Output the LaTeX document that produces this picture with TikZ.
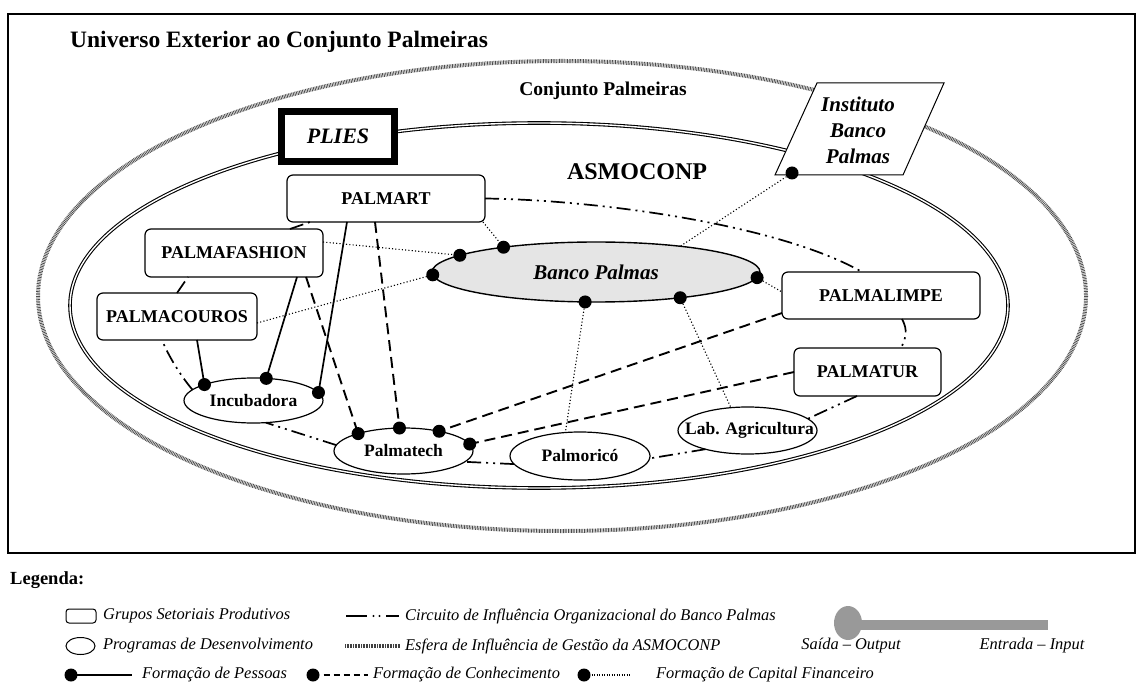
\documentclass[tikz,border=0pt]{standalone}
\usepackage{fontspec}
\setmainfont{Liberation Serif}
\usetikzlibrary{shapes.geometric,calc}
\newcommand{\zlbl}[1]{\makebox[0pt][c]{#1}}
\begin{document}
\begin{tikzpicture}[x=1pt,y=-1pt,
  box/.style={draw, rounded corners=6pt, line width=1.2pt, fill=white, inner sep=0pt, outer sep=0pt, font=\fontsize{18}{20}\selectfont\bfseries},
  prog/.style={draw, ellipse, line width=1.2pt, fill=white, inner sep=0pt, outer sep=0pt, font=\fontsize{17.5}{20}\selectfont\bfseries},
  dot/.style={circle, fill=black, inner sep=0pt, minimum size=13pt},
  pessoas/.style={line width=1.7pt},
  conhec/.style={line width=1.9pt, dash pattern=on 11pt off 6pt},
  capital/.style={line width=1.1pt, dash pattern=on 1.1pt off 2.2pt},
  circuito/.style={line width=1.7pt, dash pattern=on 14pt off 5pt on 2pt off 5pt on 2pt off 5pt},
  esfera/.style={line width=4pt, draw=black!70, dash pattern=on 0.8pt off 0.8pt},
  asmo/.style={double, line width=1.1pt, double distance=1.4pt},
  leg/.style={font=\fontsize{16.4}{18}\selectfont\itshape, anchor=west, inner sep=0pt},
  ttl/.style={font=\fontsize{#1}{#1}\selectfont\bfseries, inner sep=0pt},
]
\useasboundingbox (0,0) rectangle (1137,684);
% frame
\draw[line width=2.2pt] (8,14) rectangle (1135,553);
\node[ttl=23.5, anchor=base west] (title) at (70,48) {Universo Exterior ao Conjunto Palmeiras};
% spheres
\draw[esfera] (562,296) ellipse [x radius=524, y radius=235];
\draw[asmo] (539,305.5) ellipse [x radius=469, y radius=182.5];
\node[ttl=19.5, anchor=base] (conj) at (603,96) {Conjunto Palmeiras};
\node[ttl=24, anchor=base] (asmoconp) at (637,180) {ASMOCONP};
% PLIES
\node[draw, line width=7pt, fill=white, minimum width=113pt, minimum height=50pt, inner sep=0pt,
  font=\fontsize{22}{22}\selectfont\bfseries\itshape] (plies) at (338,136.5) {PLIES};
% Instituto
\draw[line width=1pt, fill=white] (817,83) -- (944,83) -- (903,175) -- (775,175) -- cycle;
\node[align=center, inner sep=0pt, font=\fontsize{21}{26}\selectfont\bfseries\itshape] (instituto) at (858,130) {Instituto\\Banco\\Palmas};
% boxes
\node[box, minimum width=198pt, minimum height=47pt] (palmart) at (386,198.5) {PALMART};
\node[box, minimum width=178pt, minimum height=48pt] (palmafashion) at (234,253) {PALMAFASHION};
\node[box, minimum width=160pt, minimum height=47pt] (palmacouros) at (177,316.5) {PALMACOUROS};
\node[box, minimum width=198pt, minimum height=47pt] (palmalimpe) at (881,295.5) {PALMALIMPE};
\node[box, minimum width=147pt, minimum height=48pt] (palmatur) at (867.5,372) {PALMATUR};
% programs
\node[draw, ellipse, line width=1.4pt, fill=black!10, inner sep=0pt, outer sep=0pt, minimum width=328pt, minimum height=60pt,
  font=\fontsize{21}{21}\selectfont\bfseries\itshape] (banco) at (596,272) {Banco Palmas};
\node[prog, minimum width=139pt, minimum height=45pt] (incubadora) at (253.5,400.5) {\zlbl{Incubadora}};
\node[prog, minimum width=139pt, minimum height=46pt] (palmatech) at (403.5,451) {\zlbl{Palmatech}};
\node[prog, minimum width=140pt, minimum height=48pt] (palmorico) at (580,456) {\zlbl{Palmoricó}};
\node[prog, minimum width=139pt, minimum height=47pt] (labagri) at (747.5,430.5) {\hspace{4pt}\zlbl{Lab. Agricultura}};
% dots positions
\coordinate (bp1) at (banco.173.9);
\coordinate (bp2) at (banco.165.3);
\coordinate (bp3) at (banco.181.4);
\coordinate (bp4) at (banco.358.6);
\coordinate (bp5) at (banco.250.5);
\coordinate (bp6) at (banco.343.2);
\coordinate (inc1) at (incubadora.162.7);
\coordinate (inc2) at (incubadora.60.1);
\coordinate (inc3) at (incubadora.7.5);
\coordinate (pt1) at (palmatech.159.2);
\coordinate (pt2) at (palmatech.100.2);
\coordinate (pt3) at (palmatech.29.4);
\coordinate (pt4) at (palmatech.6.7);
\coordinate (instdot) at (792,173);
% circuit
\draw[circuito] (palmart.east) .. controls (600,200) and (780,225) .. ($(palmalimpe.north west)+(80,0)$);
\draw[circuito] ($(palmalimpe.south west)+(120,0)$) .. controls (908,330) and (906,338) .. ($(palmatur.north west)+(107,0)$);
\draw[circuito] ($(palmatur.south west)+(63,0)$) -- (labagri.11);
\draw[circuito] (labagri.204.6) -- (palmorico.358);
\draw[circuito] (palmorico.187.5) -- (palmatech.350);
\draw[circuito] (palmatech.175) -- (incubadora.299);
\draw[circuito] (incubadora.170) .. controls (180,375) and (168,355) .. ($(palmacouros.south west)+(65,0)$);
\draw[circuito] ($(palmacouros.north west)+(80,0)$) -- ($(palmafashion.south west)+(43,0)$);
\draw[circuito] ($(palmafashion.north west)+(145,0)$) -- ($(palmart.south west)+(23,0)$);
% pessoas
\draw[pessoas] ($(palmacouros.south west)+(100,0)$) -- (inc1);
\draw[pessoas] ($(palmafashion.south west)+(152,0)$) -- (inc2);
\draw[pessoas] ($(palmart.south west)+(60,0)$) -- (inc3);
% conhecimento
\draw[conhec] ($(palmafashion.south west)+(161,0)$) -- (pt1);
\draw[conhec] ($(palmart.south west)+(88,0)$) -- (pt2);
\draw[conhec] ($(palmalimpe.south west)+(0,-6)$) -- (pt3);
\draw[conhec] (palmatur.west) -- (pt4);
% capital
\draw[capital] ($(palmart.south east)+(-2,0)$) -- (bp2);
\draw[capital] ($(palmafashion.north east)+(0,13)$) -- (bp1);
\draw[capital] ($(palmacouros.north east)+(0,30)$) -- (bp3);
\draw[capital] (bp4) -- ($(palmalimpe.north west)+(0,20)$);
\draw[capital] (bp5) -- (palmorico.122);
\draw[capital] (bp6) -- (labagri.126.7);
\draw[capital] (instdot) -- (banco.17.4);
% dots
\foreach \p in {bp1,bp2,bp3,bp4,bp5,bp6,inc1,inc2,inc3,pt1,pt2,pt3,pt4,instdot}
  \node[dot] at (\p) {};
% legend
\node[ttl=18.5, anchor=base west] (legenda) at (10,584) {Legenda:};
\draw[line width=1pt, rounded corners=3pt] (66,609) rectangle (96,623);
\node[leg] (lg1) at (103,616) {Grupos Setoriais Produtivos};
\draw[line width=1pt] (80.5,646) ellipse [x radius=14.5, y radius=8.5];
\node[leg] (lg2) at (103,646) {Programas de Desenvolvimento};
\draw[line width=2.4pt] (346,616) -- (367,616) (386,616) -- (399,616);
\fill (373.5,616) circle (1.1pt) (379.5,616) circle (1.1pt);
\node[leg] (lg3) at (405,616) {Circuito de Influência Organizacional do Banco Palmas};
\draw[esfera, line width=4.5pt, draw=black!75] (345,646) -- (400,646);
\node[leg] (lg4) at (405,646) {Esfera de Influência de Gestão da ASMOCONP};
\node[dot, minimum size=13pt] (ld1) at (71,675) {};
\draw[pessoas, line width=1.5pt] (ld1.center) -- (132,675);
\node[leg] (lg5) at (142,675) {Formação de Pessoas};
\node[dot, minimum size=13pt] (ld2) at (313,675) {};
\draw[conhec, line width=1.5pt, dash pattern=on 6pt off 4pt] (ld2.east) ++(4,0) -- (368,675);
\node[leg] (lg6) at (373,675) {Formação de Conhecimento};
\node[dot, minimum size=13pt] (ld3) at (584,675) {};
\draw[capital, line width=1.3pt, dash pattern=on 1pt off 1.5pt] (ld3.center) -- (630,675);
\node[leg] (lg7) at (656,675) {Formação de Capital Financeiro};
\fill[black!40] (848,623) ellipse [x radius=14, y radius=17];
\draw[black!40, line width=10pt] (848,625) -- (1048,625);
\node[leg, anchor=center] (lg8) at (851,646) {Saída – Output};
\node[leg, anchor=center] (lg9) at (1032,646) {Entrada – Input};
\end{tikzpicture}
\end{document}
